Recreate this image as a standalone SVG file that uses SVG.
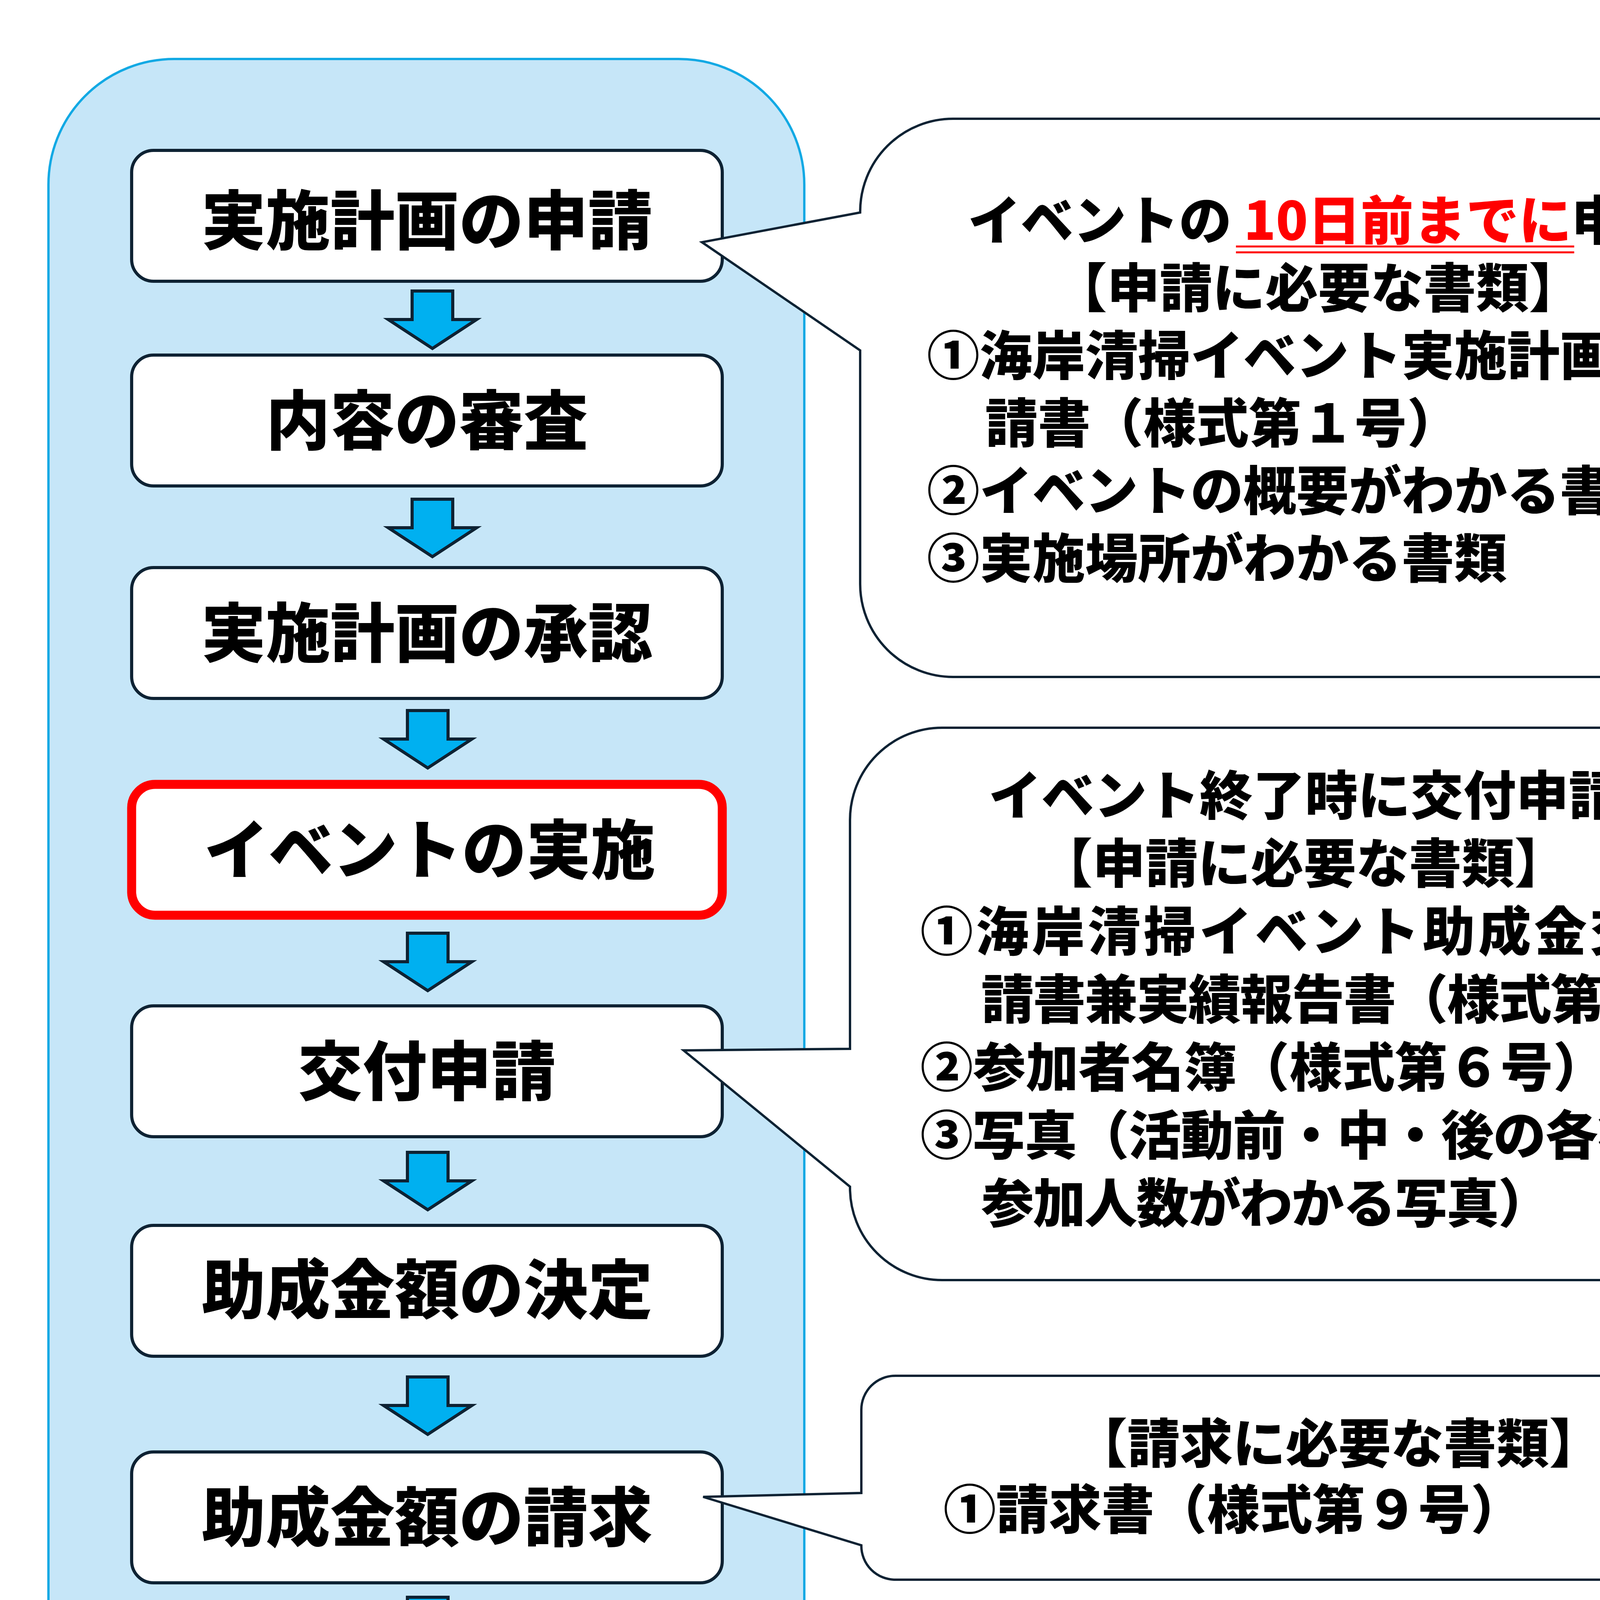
<svg xmlns="http://www.w3.org/2000/svg" width="4678" height="4886" viewBox="0 0 4678 4886">
<style>
.bg{fill:#ffffff}
.container{fill:#C6E6F8;stroke:#12A9E4;stroke-width:6}
.box{fill:#ffffff;stroke:#0E2233;stroke-width:8}
.box-red{fill:#ffffff;stroke:#FF0000;stroke-width:23}
.arrow{fill:#00B0F0;stroke:#0E2233;stroke-width:8;stroke-linejoin:miter}
.callout{fill:#ffffff;stroke:#0E2233;stroke-width:6;stroke-linejoin:miter}
.t{font-family:"Noto Sans CJK JP","Noto Sans CJK SC",sans-serif;font-weight:900;fill:#000000}
.bt{font-size:165px;text-anchor:middle}
.ct{font-size:135px}
.mid{text-anchor:middle}
.red{fill:#FF0000}
.ul{stroke:#FF0000;stroke-width:5}
</style>
<rect class="bg" x="0" y="0" width="4678" height="4886"/>
<g id="container">
<rect class="container" x="124" y="151" width="1935" height="4695" rx="322" ry="322"/>
</g>
<g id="connectors">
<path class="arrow" d="M1055,745 H1159 V818 H1220 L1107,892 L994,818 H1055 Z"/>
<path class="arrow" d="M1055,1278 H1159 V1351 H1220 L1107,1425 L994,1351 H1055 Z"/>
<path class="arrow" d="M1043,1819 H1147 V1892 H1208 L1095,1966 L982,1892 H1043 Z"/>
<path class="arrow" d="M1043,2389 H1147 V2462 H1208 L1095,2536 L982,2462 H1043 Z"/>
<path class="arrow" d="M1043,2950 H1147 V3023 H1208 L1095,3097 L982,3023 H1043 Z"/>
<path class="arrow" d="M1043,3525 H1147 V3598 H1208 L1095,3672 L982,3598 H1043 Z"/>
<path class="arrow" d="M1043,4089 H1147 V4162 H1208 L1095,4236 L982,4162 H1043 Z"/>
</g>
<g id="node1">
<rect class="box" x="337" y="385" width="1512" height="335" rx="56" ry="56"/>
<text class="t bt" x="1093" y="625">実施計画の申請</text>
</g>
<g id="node2">
<rect class="box" x="337" y="909" width="1512" height="335" rx="56" ry="56"/>
<text class="t bt" x="1093" y="1137">内容の審査</text>
</g>
<g id="node3">
<rect class="box" x="337" y="1453" width="1512" height="335" rx="56" ry="56"/>
<text class="t bt" x="1093" y="1681">実施計画の承認</text>
</g>
<g id="node4">
<rect class="box-red" x="337" y="2008" width="1512" height="335" rx="60" ry="60"/>
<text class="t bt" x="1100" y="2236">イベントの実施</text>
</g>
<g id="node5">
<rect class="box" x="337" y="2575" width="1512" height="335" rx="56" ry="56"/>
<text class="t bt" x="1093" y="2803">交付申請</text>
</g>
<g id="node6">
<rect class="box" x="337" y="3137" width="1512" height="335" rx="56" ry="56"/>
<text class="t bt" x="1093" y="3362">助成金額の決定</text>
</g>
<g id="node7">
<rect class="box" x="337" y="3717" width="1512" height="335" rx="56" ry="56"/>
<text class="t bt" x="1093" y="3945">助成金額の請求</text>
</g>
<g id="node8">
<rect class="box" x="339" y="4282" width="1512" height="335" rx="56" ry="56"/>
<text class="t bt" x="1093" y="4510">助成金交付</text>
</g>
<g id="callout1">
<path class="callout" d="M2440,304 H4356 A238,238 0 0 1 4594,542 V1495 A238,238 0 0 1 4356,1733 H2440 A238,238 0 0 1 2202,1495 V897 L1797,620 L2202,544 V542 A238,238 0 0 1 2440,304 Z"/>
<text class="t ct" x="2478" y="614">イベントの <tspan class="red">10日前までに</tspan>申請</text>
<line class="ul" x1="3164" y1="631" x2="4030" y2="631"/>
<line class="ul" x1="3164" y1="646" x2="4030" y2="646"/>
<text class="t ct mid" x="3374" y="787">【申請に必要な書類】</text>
<text class="t ct" x="2373" y="960">①海岸清掃イベント実施計画承認申</text>
<text class="t ct" x="2522" y="1133">請書（様式第１号）</text>
<text class="t ct" x="2373" y="1306">②イベントの概要がわかる書類</text>
<text class="t ct" x="2373" y="1479">③実施場所がわかる書類</text>
</g>
<g id="callout2">
<path class="callout" d="M2412,1863 H4355 A236,236 0 0 1 4591,2099 V3041 A236,236 0 0 1 4355,3277 H2412 A236,236 0 0 1 2176,3041 V3038 L1750,2689 L2176,2685 V2099 A236,236 0 0 1 2412,1863 Z"/>
<text class="t ct mid" x="3341" y="2086">イベント終了時に交付申請</text>
<text class="t ct mid" x="3337" y="2260">【申請に必要な書類】</text>
<text class="t ct" x="2356" y="2434" textLength="2135" lengthAdjust="spacing">①海岸清掃イベント助成金交付申</text>
<text class="t ct" x="2512" y="2608" textLength="1990" lengthAdjust="spacing">請書兼実績報告書（様式第５号）</text>
<text class="t ct" x="2356" y="2782">②参加者名簿（様式第６号）</text>
<text class="t ct" x="2356" y="2956" textLength="2135" lengthAdjust="spacing">③写真（活動前・中・後の各状況と</text>
<text class="t ct" x="2512" y="3130" textLength="1458" lengthAdjust="spacing">参加人数がわかる写真）</text>
</g>
<g id="callout3">
<path class="callout" d="M2292,3522 H4504 A87,87 0 0 1 4591,3609 V3957 A87,87 0 0 1 4504,4044 H2292 A87,87 0 0 1 2205,3957 V3956 L1800,3832 L2205,3822 V3609 A87,87 0 0 1 2292,3522 Z"/>
<text class="t ct mid" x="3426" y="3745">【請求に必要な書類】</text>
<text class="t ct" x="2415" y="3914">①請求書（様式第９号）</text>
</g>
</svg>
